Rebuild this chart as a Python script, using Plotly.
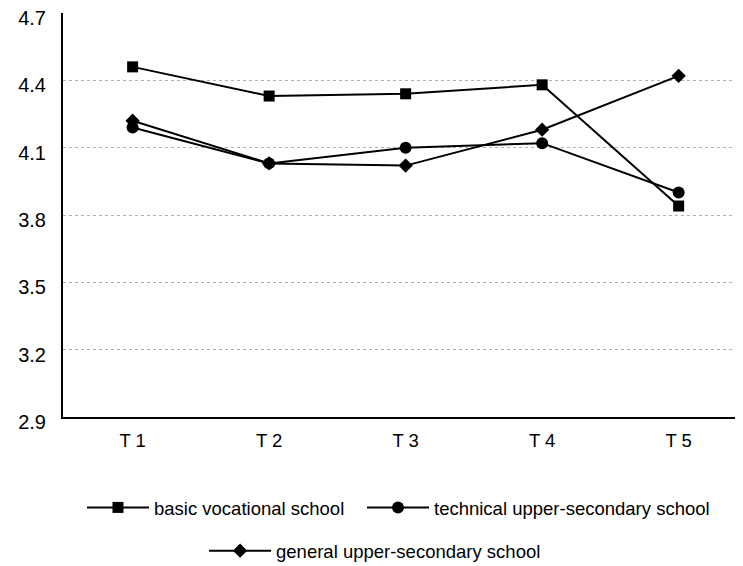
import plotly.graph_objects as go

categories = ["T 1", "T 2", "T 3", "T 4", "T 5"]
basic = [4.46, 4.33, 4.34, 4.38, 3.84]
technical = [4.19, 4.03, 4.10, 4.12, 3.90]
general = [4.22, 4.03, 4.02, 4.18, 4.42]
y_ticks = [2.9, 3.2, 3.5, 3.8, 4.1, 4.4, 4.7]

fig = go.Figure()
fig.add_trace(go.Scatter(x=categories, y=basic, name="basic vocational school",
                         mode="lines+markers", line=dict(color="black", width=2),
                         marker=dict(symbol="square", size=11, color="black"),
                         legend="legend", showlegend=True))
fig.add_trace(go.Scatter(x=categories, y=technical, name="technical upper-secondary school",
                         mode="lines+markers", line=dict(color="black", width=2),
                         marker=dict(symbol="circle", size=12, color="black"),
                         legend="legend2", showlegend=True))
fig.add_trace(go.Scatter(x=categories, y=general, name="general upper-secondary school",
                         mode="lines+markers", line=dict(color="black", width=2),
                         marker=dict(symbol="diamond", size=11, color="black"),
                         legend="legend3", showlegend=True))

leg_common = dict(orientation="h", xanchor="left", yanchor="middle",
                  font=dict(size=18.5), itemwidth=62)

fig.update_layout(
    width=743, height=566,
    showlegend=True,
    margin=dict(l=55, r=0, t=5, b=157, autoexpand=False),
    paper_bgcolor="white", plot_bgcolor="white",
    font=dict(family="Liberation Sans, Arial, sans-serif", color="black"),
    xaxis=dict(type="category", range=[-0.51, 4.53], showline=True, linecolor="black",
               linewidth=2, ticks="", showgrid=False, tickfont=dict(size=18.5),
               ticklabelstandoff=6, automargin=False),
    yaxis=dict(range=[2.9, 4.7], tickvals=y_ticks, ticktext=[f"{v:.1f}" for v in y_ticks],
               showline=True, linecolor="black", linewidth=2, ticks="",
               showgrid=True, gridcolor="#b0b0b0", griddash="dot", gridwidth=1,
               tickfont=dict(size=20), zeroline=False, automargin=False,
               ticklabelstandoff=11, ticklabelshift=5, ticklabeloverflow="allow"),
    legend=dict(x=0.0276, y=-0.225, **leg_common),
    legend2=dict(x=0.4346, y=-0.225, **leg_common),
    legend3=dict(x=0.205, y=-0.332, **leg_common),
)

fig.write_html("out.html")
